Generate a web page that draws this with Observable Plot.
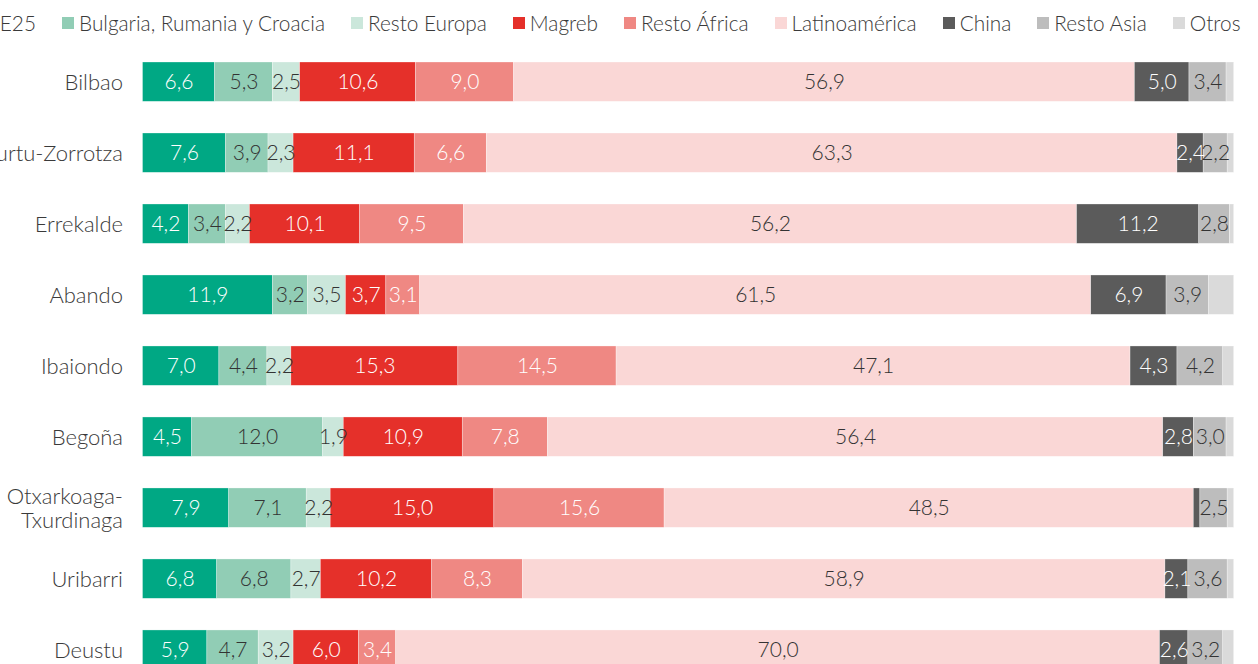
<!DOCTYPE html>
<html>
<head>
<meta charset="utf-8">
<script src="https://cdn.jsdelivr.net/npm/d3@7"></script>
<script src="https://cdn.jsdelivr.net/npm/@observablehq/plot@0.6"></script>
<style>
  html, body { margin: 0; padding: 0; background: #fff; overflow: hidden; width: 1258px; height: 664px; }
  body { font-family: Lato, "Open Sans", sans-serif; font-weight: 300; color: #3a3a3a; }
  #legend { position: relative; height: 45px; overflow: hidden; width: 1258px; }
  #legend-inner { position: absolute; top: 8px; left: 0; display: flex; white-space: nowrap; font-size: 20.8px; line-height: 30px; }
  .item { display: flex; align-items: center; margin-right: 26px; }
  .sw { width: 12px; height: 12px; margin-right: 5px; display: inline-block; }
  #chart svg { font-family: Lato, "Open Sans", sans-serif; font-weight: 300; }
</style>
</head>
<body>
<div id="legend"><div id="legend-inner"></div></div>
<div id="chart"></div>
<script>
const barrios = ["Bilbao", "Basurtu-Zorrotza", "Errekalde", "Abando", "Ibaiondo", "Begoña", "Otxarkoaga-\nTxurdinaga", "Uribarri", "Deustu"];
const grupos = ["UE25", "Bulgaria, Rumania y Croacia", "Resto Europa", "Magreb", "Resto África", "Latinoamérica", "China", "Resto Asia", "Otros"];
const colores = ["#00a884", "#91cdb5", "#cbe7db", "#e5302a", "#ef8883", "#fad7d6", "#5b5b5b", "#bdbdbd", "#dadada"];
const textoColor = ["#ffffff", "#333333", "#333333", "#ffffff", "#ffffff", "#333333", "#ffffff", "#333333", "#333333"];

const UE25        = [6.6, 7.6, 4.2, 11.9, 7.0, 4.5, 7.9, 6.8, 5.9];
const bulgaria    = [5.3, 3.9, 3.4, 3.2, 4.4, 12.0, 7.1, 6.8, 4.7];
const restoEuropa = [2.5, 2.3, 2.2, 3.5, 2.2, 1.9, 2.2, 2.7, 3.2];
const magreb      = [10.6, 11.1, 10.1, 3.7, 15.3, 10.9, 15.0, 10.2, 6.0];
const restoAfrica = [9.0, 6.6, 9.5, 3.1, 14.5, 7.8, 15.6, 8.3, 3.4];
const latam       = [56.9, 63.3, 56.2, 61.5, 47.1, 56.4, 48.5, 58.9, 70.0];
const china       = [5.0, 2.4, 11.2, 6.9, 4.3, 2.8, 0.6, 2.1, 2.6];
const restoAsia   = [3.4, 2.2, 2.8, 3.9, 4.2, 3.0, 2.5, 3.6, 3.2];
const otros       = [0.7, 0.6, 0.4, 2.3, 1.0, 0.7, 0.6, 0.6, 1.0];

const series = [UE25, bulgaria, restoEuropa, magreb, restoAfrica, latam, china, restoAsia, otros];
const data = [];
barrios.forEach((b, i) => {
  grupos.forEach((g, j) => {
    data.push({barrio: b, grupo: g, value: series[j][i], tc: textoColor[j]});
  });
});
const fmt = v => v.toFixed(1).replace(".", ",");

const chart = Plot.plot({
  width: 1258,
  height: 700,
  marginLeft: 142.5,
  marginRight: 24.3,
  marginTop: 17,
  marginBottom: 75.7,
  style: {fontSize: "21px", fontFamily: "Lato, 'Open Sans', sans-serif", fontWeight: 300, color: "#3a3a3a"},
  x: {domain: [0, 100], axis: null},
  y: {domain: barrios, paddingInner: 0.446, paddingOuter: 0, align: 0, round: false, label: null},
  color: {domain: grupos, range: colores},
  marks: [
    Plot.barX(data, Plot.stackX({x: "value", y: "barrio", fill: "grupo", order: grupos, stroke: "#fff", strokeWidth: 0.5, strokeOpacity: 0.6})),
    Plot.text(data, Plot.stackX({
      x: "value", y: "barrio", z: "grupo", order: grupos,
      text: d => (d.grupo !== "Otros" && d.value >= 1.5) ? fmt(d.value) : null,
      fill: "tc", fontSize: 21, fontWeight: 300
    })),
    Plot.axisY({tickSize: 0, tickPadding: 20, fontSize: 22, lineHeight: 1.1, label: null, fill: "#3a3a3a"})
  ]
});
document.getElementById("chart").appendChild(chart);

const inner = document.getElementById("legend-inner");
grupos.forEach((g, j) => {
  const it = document.createElement("span");
  it.className = "item";
  const sw = document.createElement("span");
  sw.className = "sw";
  sw.style.background = colores[j];
  const t = document.createElement("span");
  t.textContent = g;
  it.appendChild(sw);
  it.appendChild(t);
  inner.appendChild(it);
});
// place the legend so that the second swatch sits at x = 62 (first item clipped on the left, as in the reference)
const second = inner.children[1].querySelector(".sw");
inner.style.left = (62 - second.getBoundingClientRect().left) + "px";
</script>
</body>
</html>
